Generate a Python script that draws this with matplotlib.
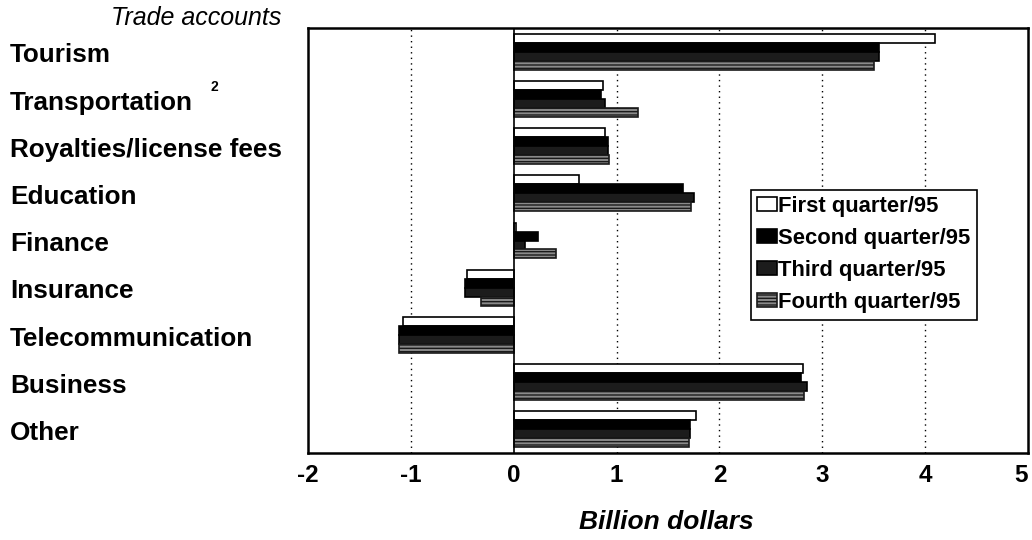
import matplotlib.pyplot as plt
import matplotlib.transforms as mtrans
import numpy as np

plt.rcParams['font.family'] = ['Liberation Sans', 'DejaVu Sans']
plt.rcParams['axes.unicode_minus'] = False

categorias = ['Tourism', 'Transportation', 'Royalties/license fees', 'Education',
              'Finance', 'Insurance', 'Telecommunication', 'Business', 'Other']
series = ['First quarter/95', 'Second quarter/95', 'Third quarter/95', 'Fourth quarter/95']

q1 = [4.10, 0.87, 0.89, 0.63, 0.02, -0.45, -1.08, 2.81, 1.77]
q2 = [3.55, 0.85, 0.92, 1.65, 0.24, -0.47, -1.12, 2.79, 1.71]
q3 = [3.55, 0.89, 0.92, 1.75, 0.11, -0.47, -1.12, 2.85, 1.71]
q4 = [3.50, 1.21, 0.93, 1.72, 0.41, -0.32, -1.12, 2.82, 1.70]

estilos = [
    dict(color='white', edgecolor='black', hatch=None),
    dict(color='black', edgecolor='black', hatch=None),
    dict(color='#1c1c1c', edgecolor='black', hatch=None),
    dict(color='#8a8a8a', edgecolor='#1a1a1a', hatch='-----'),
]

fig = plt.figure(figsize=(10.32, 5.40), dpi=100)
ax = fig.add_axes([308/1032, 1-453/540, 720/1032, 425/540])

y = np.arange(len(categorias))
alto = 0.19
for i, (vals, est) in enumerate(zip([q1, q2, q3, q4], estilos)):
    ax.barh(y - 1.5*alto + i*alto, vals, height=alto, color=est['color'],
            edgecolor=est['edgecolor'], hatch=est['hatch'], linewidth=1.2,
            label=series[i])

ax.set_xlim(-2, 5)
ax.set_ylim(len(categorias) - 0.5, -0.5)
ax.set_yticks([])
ax.set_xticks(range(-2, 6))
ax.tick_params(axis='x', length=0, labelsize=17.5, pad=8)
for lab in ax.get_xticklabels():
    lab.set_fontweight('bold')
ax.get_xticklabels()[-1].set_horizontalalignment('right')
for x in [-1, 1, 2, 3, 4]:
    ax.axvline(x, color='black', linestyle=(0, (1, 3)), linewidth=1, zorder=0)
ax.axvline(0, color='black', linewidth=1.2, zorder=3)
for s in ax.spines.values():
    s.set_linewidth(1.8)

tr = mtrans.blended_transform_factory(fig.transFigure, ax.transData)
for k, c in enumerate(categorias):
    ax.text(10/1032, k + 0.08, c, transform=tr, ha='left', va='center',
            fontsize=18.8, fontweight='bold', clip_on=False)
fig.text(214/1032, 1-87/540, '2', fontsize=10, fontweight='bold',
         ha='center', va='center')
fig.text(281/1032, 1-18/540, 'Trade accounts', fontsize=18, style='italic',
         ha='right', va='center')
fig.text(666/1032, 1-522/540, 'Billion dollars', fontsize=19, style='italic',
         fontweight='bold', ha='center', va='center')

leg = ax.legend(loc='upper left', bbox_to_anchor=(0.615, 0.62),
                prop=dict(size=15.8, weight='bold'),
                handlelength=0.9, handleheight=0.6, handletextpad=0.05,
                borderpad=0.3, labelspacing=0.5, fancybox=False,
                edgecolor='black', framealpha=1, borderaxespad=0)
leg.get_frame().set_linewidth(1.2)

fig.savefig('out.png', dpi=100)
